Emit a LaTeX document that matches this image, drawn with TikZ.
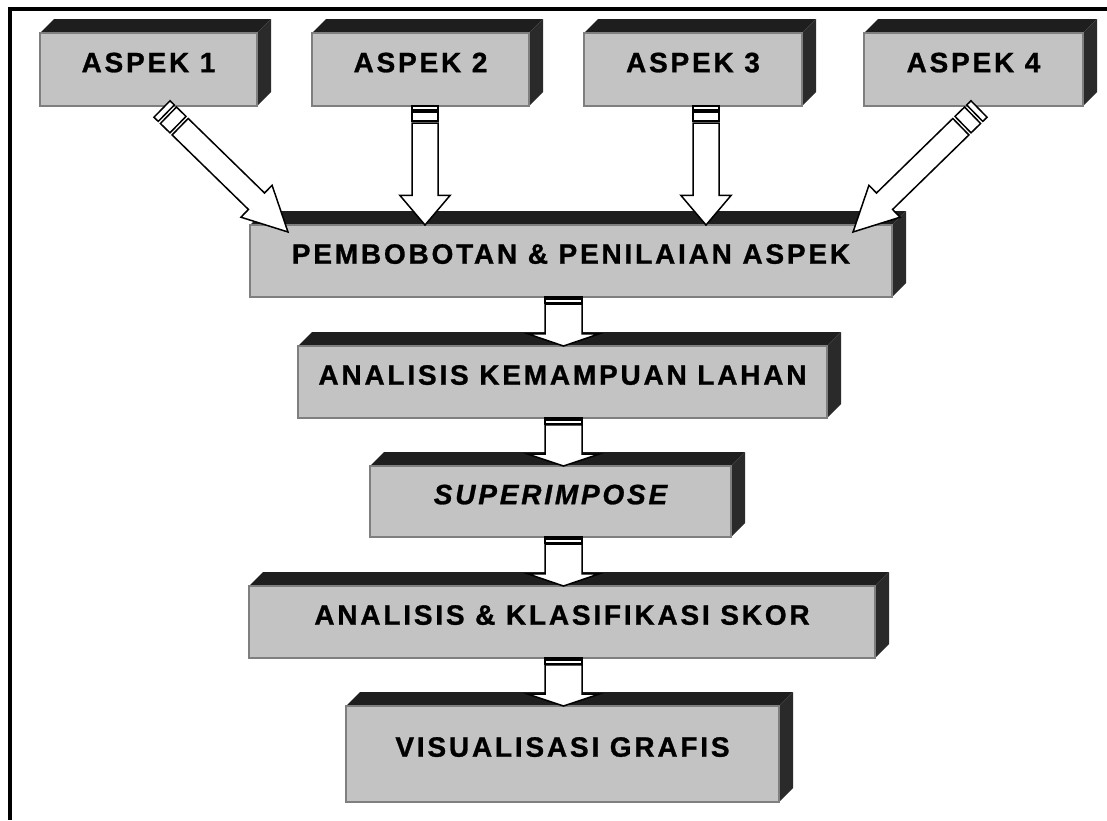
\documentclass[tikz,border=0pt]{standalone}
\usepackage{fontspec}
\usepackage{tikz}
\usetikzlibrary{calc,positioning,backgrounds}

\newfontfamily\hurufkotak[LetterSpace=10,FakeBold=1]{Liberation Sans}

\definecolor{mukaabu}{HTML}{C3C3C3}
\definecolor{tepiabu}{HTML}{7F7F7F}
\definecolor{atasgelap}{HTML}{1E1E1E}
\definecolor{sampinggelap}{HTML}{2A2A2A}

\tikzset{
  kotak/.style={draw=tepiabu,fill=mukaabu,line width=0.8pt,inner sep=0pt,outer sep=0pt,
    text height=10pt,text depth=7.3pt,
    font=\hurufkotak\bfseries\fontsize{14}{16}\selectfont},
  sisiatas/.style={fill=atasgelap},
  sisikanan/.style={fill=sampinggelap},
  panah/.style={draw=black,fill=white,line width=0.75pt,line join=miter},
  bingkai/.style={draw=black,line width=1.6pt}
}

% striped block arrow: #1 tail, #2 tip, #3 shaft width in pt
\newcommand{\panahblok}[3]{%
  \path let \p1=(#1), \p2=(#2),
    \n1={atan2(\y2-\y1,\x2-\x1)}, \n2={veclen(\x2-\x1,\y2-\y1)} in
    \pgfextra{\xdef\pArah{\n1}\xdef\pPanjang{\n2}};
  \begin{scope}[shift={(#1)},rotate=\pArah]
    \pgfmathsetmacro\L{\pPanjang}
    \pgfmathsetmacro\w{#3/2}
    \pgfmathsetmacro\h{#3*0.97}
    \pgfmathsetmacro\sa{0.034*\L}
    \pgfmathsetmacro\sb{0.051*\L}
    \pgfmathsetmacro\sc{0.127*\L}
    \pgfmathsetmacro\sd{0.144*\L}
    \pgfmathsetmacro\se{0.75*\L}
    \draw[panah] (0pt,-\w pt) rectangle (\sa pt,\w pt);
    \draw[panah] (\sb pt,-\w pt) rectangle (\sc pt,\w pt);
    \draw[panah] (\sd pt,-\w pt) -- (\se pt,-\w pt) -- (\se pt,-\h pt) -- (\L pt,0pt)
      -- (\se pt,\h pt) -- (\se pt,\w pt) -- (\sd pt,\w pt) -- cycle;
  \end{scope}}

\begin{document}
\begin{tikzpicture}[x=0.5pt,y=-0.5pt]
  \useasboundingbox (0,0) rectangle (1107,820);

  % frame
  \draw[bingkai] (10,820) |- (1107,9);

  % Top row boxes
  \node[kotak,minimum width=108.5pt,minimum height=36.5pt] (aspek1) at (148.5,69.5) {ASPEK 1};
  \node[kotak,minimum width=108.5pt,minimum height=36.5pt] (aspek2) at (420.5,69.5) {ASPEK 2};
  \node[kotak,minimum width=109pt,minimum height=36.5pt] (aspek3) at (693,69.5) {ASPEK 3};
  \node[kotak,minimum width=109.5pt,minimum height=36.5pt] (aspek4) at (973.5,69.5) {ASPEK 4};

  % Process boxes
  \node[kotak,minimum width=321pt,minimum height=36pt] (bobot) at (571,261) {PEMBOBOTAN \& PENILAIAN ASPEK};
  \node[kotak,minimum width=264.5pt,minimum height=36pt] (mampu) at (562.5,382) {ANALISIS KEMAMPUAN LAHAN};
  \node[kotak,minimum width=180.5pt,minimum height=35.5pt] (super) at (550.5,501.5) {\itshape SUPERIMPOSE};
  \node[kotak,minimum width=313pt,minimum height=36pt] (skor) at (562,622) {ANALISIS \& KLASIFIKASI SKOR};
  \node[kotak,minimum width=216.5pt,minimum height=48pt] (grafis) at (562.5,754) {VISUALISASI GRAFIS};

  % 3D faces behind the boxes
  \begin{pgfonlayer}{background}
    \foreach \n in {aspek1,aspek2,aspek3,aspek4,bobot,mampu,super,skor,grafis} {
      \fill[sisiatas] (\n.north west) -- ++(14,-14) -- ($(\n.north east)+(14,-14)$) -- (\n.north east) -- cycle;
      \fill[sisikanan] (\n.north east) -- ++(14,-14) -- ($(\n.south east)+(14,-14)$) -- (\n.south east) -- cycle;
    }
  \end{pgfonlayer}

  % arrow ends
  \coordinate (ekor1) at ($(aspek1.south)+(13.5,3)$);
  \coordinate (ujung1) at ($(bobot.north west)+(38,7)$);
  \coordinate (ekor2) at ($(aspek2.south)+(4.5,0)$);
  \coordinate (ujung2) at (ekor2 |- bobot.north);
  \coordinate (ekor3) at ($(aspek3.south)+(13,0)$);
  \coordinate (ujung3) at (ekor3 |- bobot.north);
  \coordinate (ekor4) at ($(aspek4.south)+(5.5,3)$);
  \coordinate (ujung4) at ($(bobot.north east)+(-39,7)$);
  \coordinate (poros) at (563.5,0);

  % Arrows into the weighting box
  \panahblok{ekor1}{ujung1}{11.5}
  \panahblok{ekor2}{ujung2}{13}
  \panahblok{ekor3}{ujung3}{13}
  \panahblok{ekor4}{ujung4}{11.5}

  % Arrows down the chain
  \panahblok{bobot.south -| poros}{mampu.north -| poros}{18.5}
  \panahblok{mampu.south -| poros}{super.north -| poros}{18.5}
  \panahblok{super.south -| poros}{skor.north -| poros}{18.5}
  \panahblok{skor.south -| poros}{grafis.north -| poros}{18.5}
\end{tikzpicture}
\end{document}
